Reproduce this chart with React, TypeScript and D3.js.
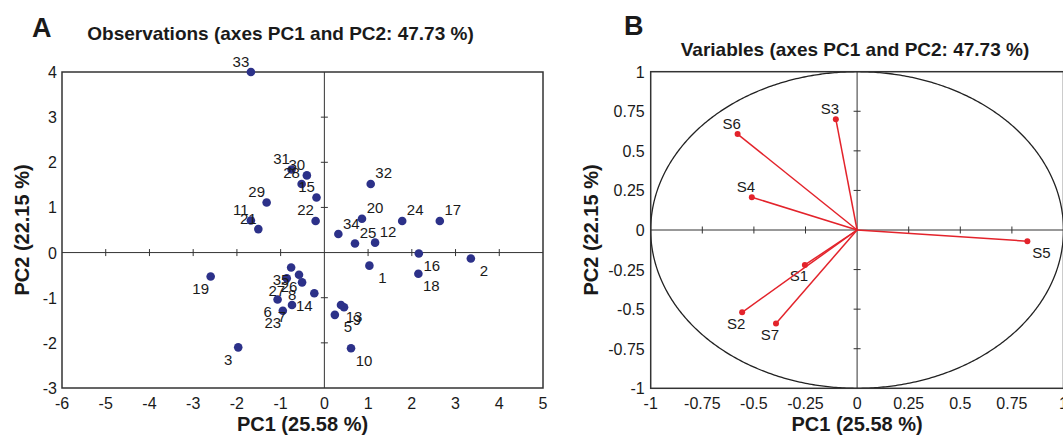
import * as d3 from "d3";

// observations (PCA scores)
const obsNames = ["1", "2", "3", "5", "6", "7", "8", "9", "10", "11", "12", "13", "14", "15", "16", "17", "18", "19", "20", "21", "22", "23", "24", "25", "26", "27", "28", "29", "30", "31", "32", "33", "34", "35"];
const obsPc1 = [1.03, 3.35, -1.97, 0.24, -1.07, -0.74, -0.51, 0.45, 0.61, -1.68, 1.16, 0.38, -0.23, -0.18, 2.16, 2.64, 2.15, -2.6, 0.86, -1.51, -0.2, -0.95, 1.78, 0.7, -0.58, -0.86, -0.52, -1.32, -0.4, -0.75, 1.06, -1.68, 0.32, -0.76];
const obsPc2 = [-0.29, -0.13, -2.1, -1.38, -1.04, -1.16, -0.66, -1.21, -2.12, 0.71, 0.22, -1.16, -0.9, 1.22, -0.02, 0.7, -0.47, -0.53, 0.75, 0.52, 0.7, -1.29, 0.7, 0.2, -0.49, -0.57, 1.52, 1.11, 1.71, 1.84, 1.52, 4.0, 0.41, -0.33];

// variables (loadings)
const varNames = ["S1", "S2", "S3", "S4", "S5", "S6", "S7"];
const varPc1 = [-0.253, -0.557, -0.103, -0.51, 0.825, -0.579, -0.393];
const varPc2 = [-0.221, -0.52, 0.7, 0.207, -0.071, 0.606, -0.59];

const obsTicksX = [-6, -5, -4, -3, -2, -1, 0, 1, 2, 3, 4, 5];
const obsTicksY = [-3, -2, -1, 0, 1, 2, 3, 4];
const varTicks = [-1, -0.75, -0.5, -0.25, 0, 0.25, 0.5, 0.75, 1];

const FONT = "'Liberation Sans', Arial, Helvetica, sans-serif";
const INK = "#1a1a1a";
const DOT = "#2c3189";
const RED = "#e3232b";

const fmt = (v: number) => String(v).replace("−", "-");

const App = () => {
  // panel A
  const xA = d3.scaleLinear().domain([-6, 5]).range([62, 543]);
  const yA = d3.scaleLinear().domain([-3, 4]).range([388, 72]);
  // panel B
  const xB = d3.scaleLinear().domain([-1, 1]).range([650.7, 1063.5]);
  const yB = d3.scaleLinear().domain([-1, 1]).range([388.3, 71.7]);

  const circle = d3.line<number>()
    .x(a => xB(Math.cos(a)))
    .y(a => yB(Math.sin(a)))(d3.range(0, Math.PI * 2 + 0.01, 0.01));

  const obs = obsNames.map((n, i) => ({ n, x: obsPc1[i], y: obsPc2[i] }));
  const vars = varNames.map((n, i) => ({ n, x: varPc1[i], y: varPc2[i] }));

  const t = 3.5; // half tick length

  return (
    <svg width={1063} height={437} style={{ position: "absolute", left: 0, top: 0, background: "#fff" }}
      fontFamily={FONT} fill={INK}>
      <defs>
        <clipPath id="clipB">
          <rect x={xB(-1)} y={yB(1)} width={xB(1) - xB(-1)} height={yB(-1) - yB(1)} />
        </clipPath>
      </defs>

      {/* ---------- panel A ---------- */}
      <text x={32} y={37} fontSize={27} fontWeight="bold">A</text>
      <text x={(xA(-6) + xA(5)) / 2 - 22} y={40} fontSize={19} fontWeight="bold" textAnchor="middle">
        Observations (axes PC1 and PC2: 47.73 %)
      </text>
      <rect x={xA(-6)} y={yA(4)} width={xA(5) - xA(-6)} height={yA(-3) - yA(4)}
        fill="none" stroke="#333" strokeWidth={1.5} />
      <line x1={xA(-6)} x2={xA(5)} y1={yA(0)} y2={yA(0)} stroke="#333" strokeWidth={1} />
      <line x1={xA(0)} x2={xA(0)} y1={yA(-3)} y2={yA(4)} stroke="#333" strokeWidth={1} />
      {obsTicksX.filter(v => v > -6 && v < 5 && v !== 0).map(v => (
        <line key={"tx" + v} x1={xA(v)} x2={xA(v)} y1={yA(0) - t} y2={yA(0) + t} stroke="#333" />
      ))}
      {obsTicksY.filter(v => v > -3 && v < 4 && v !== 0).map(v => (
        <line key={"ty" + v} x1={xA(0) - t} x2={xA(0) + t} y1={yA(v)} y2={yA(v)} stroke="#333" />
      ))}
      {obsTicksX.map(v => (
        <text key={"lx" + v} x={xA(v)} y={yA(-3) + 21} fontSize={16} textAnchor="middle">{fmt(v)}</text>
      ))}
      {obsTicksY.map(v => (
        <text key={"ly" + v} x={xA(-6) - 5} y={yA(v) + 6} fontSize={16} textAnchor="end">{fmt(v)}</text>
      ))}
      <text x={(xA(-6) + xA(5)) / 2} y={431} fontSize={20} fontWeight="bold" textAnchor="middle">PC1 (25.58 %)</text>
      <text transform={`translate(29,${(yA(4) + yA(-3)) / 2}) rotate(-90)`} fontSize={20} fontWeight="bold"
        textAnchor="middle">PC2 (22.15 %)</text>
      {obs.map(d => (
        <circle key={"p" + d.n} cx={xA(d.x)} cy={yA(d.y)} r={4.3} fill={DOT} />
      ))}
      {obs.map(d => {
        const dx = d.x >= 0 ? 13 : -10;
        const dy = d.y >= 0 ? -11 : 12;
        return (
          <text key={"pl" + d.n} x={xA(d.x) + dx} y={yA(d.y) + dy} fontSize={15} textAnchor="middle"
            dominantBaseline="central">{d.n}</text>
        );
      })}

      {/* ---------- panel B ---------- */}
      <text x={624} y={35} fontSize={27} fontWeight="bold">B</text>
      <text x={855} y={56} fontSize={19} fontWeight="bold" textAnchor="middle">
        Variables (axes PC1 and PC2: 47.73 %)
      </text>
      <path d={circle ?? ""} fill="none" stroke="#222" strokeWidth={1.3} clipPath="url(#clipB)" />
      <rect x={xB(-1)} y={yB(1)} width={xB(1) - xB(-1)} height={yB(-1) - yB(1)}
        fill="none" stroke="#333" strokeWidth={1.5} />
      <line x1={xB(-1)} x2={xB(1)} y1={yB(0)} y2={yB(0)} stroke="#333" strokeWidth={1} />
      <line x1={xB(0)} x2={xB(0)} y1={yB(-1)} y2={yB(1)} stroke="#333" strokeWidth={1} />
      {varTicks.filter(v => Math.abs(v) < 1 && v !== 0).map(v => (
        <g key={"vt" + v}>
          <line x1={xB(v)} x2={xB(v)} y1={yB(0) - t} y2={yB(0) + t} stroke="#333" />
          <line x1={xB(0) - t} x2={xB(0) + t} y1={yB(v)} y2={yB(v)} stroke="#333" />
        </g>
      ))}
      {varTicks.map(v => (
        <text key={"vlx" + v} x={xB(v)} y={yB(-1) + 21} fontSize={16} textAnchor="middle">{fmt(v)}</text>
      ))}
      {varTicks.map(v => (
        <text key={"vly" + v} x={xB(-1) - 6} y={yB(v) + 6} fontSize={16} textAnchor="end">{fmt(v)}</text>
      ))}
      <text x={xB(0)} y={431} fontSize={20} fontWeight="bold" textAnchor="middle">PC1 (25.58 %)</text>
      <text transform={`translate(598,${yB(0)}) rotate(-90)`} fontSize={20} fontWeight="bold"
        textAnchor="middle">PC2 (22.15 %)</text>
      {vars.map(d => (
        <g key={"v" + d.n}>
          <line x1={xB(0)} y1={yB(0)} x2={xB(d.x)} y2={yB(d.y)} stroke={RED} strokeWidth={1.5} />
          <circle cx={xB(d.x)} cy={yB(d.y)} r={3} fill={RED} />
          <text x={xB(d.x) + (d.x > 0 ? 14 : -6)} y={yB(d.y) + (d.y > 0 ? -11 : 11)} fontSize={15}
            textAnchor="middle" dominantBaseline="central">{d.n}</text>
        </g>
      ))}
    </svg>
  );
};

export default App;
